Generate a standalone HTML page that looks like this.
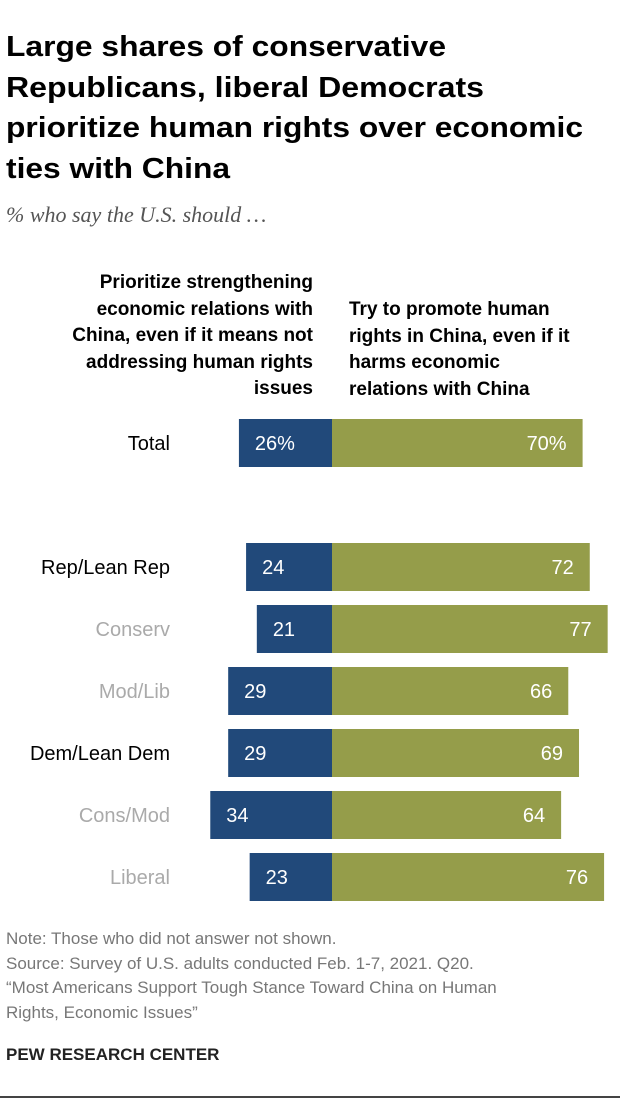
<!DOCTYPE html>
<html><head><meta charset="utf-8"><style>
body{margin:0;background:#fff;font-family:"Liberation Sans",sans-serif;}
#w{position:relative;width:620px;height:1106px;overflow:hidden;}
.t{position:absolute;}
.tl{position:absolute;left:6px;font-size:29px;font-weight:bold;white-space:nowrap;transform-origin:0 0;color:#000;}
</style></head><body>
<div id="w">
<div>
<div class="tl" data-w="440" style="top:31px">Large shares of conservative</div>
<div class="tl" data-w="478" style="top:72px">Republicans, liberal Democrats</div>
<div class="tl" data-w="577" style="top:112px">prioritize human rights over economic</div>
<div class="tl" data-w="224" style="top:153px">ties with China</div>
</div>
<div class="t" style="left:6px;top:202px;font-family:'Liberation Serif',serif;font-style:italic;font-size:22px;color:#555;">% who say the U.S. should …</div>
<div class="t" style="right:307px;top:270px;width:290px;text-align:right;font-size:19px;font-weight:bold;line-height:26.5px;">Prioritize strengthening<br>economic relations with<br>China, even if it means not<br>addressing human rights<br>issues</div>
<div class="t" style="left:349px;top:297px;width:270px;font-size:19px;font-weight:bold;line-height:26.5px;">Try to promote human<br>rights in China, even if it<br>harms economic<br>relations with China</div>
<svg id="s" class="t" style="left:0;top:0" width="620" height="1106"></svg>
<div class="t" style="left:6px;top:927px;font-size:17px;line-height:24.5px;color:#777;">Note: Those who did not answer not shown.<br>Source: Survey of U.S. adults conducted Feb. 1-7, 2021. Q20.<br>“Most Americans Support Tough Stance Toward China on Human<br>Rights, Economic Issues”</div>
<div class="t" style="left:6px;top:1045px;font-size:17px;font-weight:bold;color:#222;">PEW RESEARCH CENTER</div>
<div class="t" style="left:0;top:1096px;width:620px;height:2px;background:#444;"></div>
</div>
<script>
const categories=["Total","Rep/Lean Rep","Conserv","Mod/Lib","Dem/Lean Dem","Cons/Mod","Liberal"];
const econValues=[26,24,21,29,29,34,23];
const rightsValues=[70,72,77,66,69,64,76];
const econLabels=["26%","24","21","29","29","34","23"];
const rightsLabels=["70%","72","77","66","69","64","76"];
const isSub=[false,false,true,true,false,true,true];
document.querySelectorAll('.tl').forEach(e=>{const w=e.getBoundingClientRect().width;e.style.transform='scaleX('+(+e.dataset.w/w)+')';});
const NS="http://www.w3.org/2000/svg";
const svg=document.getElementById('s');
const cx=332, k=3.58, h=48;
function y(i){return i===0?419:543+(i-1)*62;}
function x(v){return v*k;}
function mk(t,a){const e=document.createElementNS(NS,t);for(const n in a)e.setAttribute(n,a[n]);svg.appendChild(e);return e;}
categories.forEach((c,i)=>{
  const yy=y(i);
  const b1=mk('rect',{x:cx-x(econValues[i]),y:yy,width:x(econValues[i]),height:h,fill:'#21497a'});
  
  
  const b2=mk('rect',{x:cx,y:yy,width:x(rightsValues[i]),height:h,fill:'#959d4a'});
  
  
  const t1=mk('text',{x:cx-x(econValues[i])+16,y:yy+h/2+7,fill:'#fff','font-size':20});
  t1.textContent=econLabels[i];
  
  
  const t2=mk('text',{x:cx+x(rightsValues[i])-16,y:yy+h/2+7,fill:'#fff','font-size':20,'text-anchor':'end'});
  t2.textContent=rightsLabels[i];
  
  
  const l=mk('text',{x:170,y:yy+h/2+7,fill:isSub[i]?'#aaa':'#000','font-size':20,'text-anchor':'end'});
  l.textContent=c;
  
  
});
</script>
</body></html>
